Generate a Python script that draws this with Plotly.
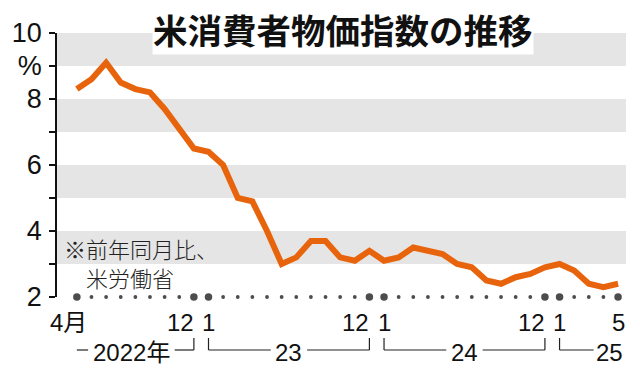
import plotly.graph_objects as go

# ---- data -------------------------------------------------------------
months = [
    "2022-04", "2022-05", "2022-06", "2022-07", "2022-08", "2022-09", "2022-10", "2022-11", "2022-12",
    "2023-01", "2023-02", "2023-03", "2023-04", "2023-05", "2023-06", "2023-07", "2023-08", "2023-09",
    "2023-10", "2023-11", "2023-12",
    "2024-01", "2024-02", "2024-03", "2024-04", "2024-05", "2024-06", "2024-07", "2024-08", "2024-09",
    "2024-10", "2024-11", "2024-12",
    "2025-01", "2025-02", "2025-03", "2025-04", "2025-05",
]
cpi = [
    8.3, 8.6, 9.1, 8.5, 8.3, 8.2, 7.7, 7.1, 6.5,
    6.4, 6.0, 5.0, 4.9, 4.0, 3.0, 3.2, 3.7, 3.7, 3.2, 3.1, 3.4,
    3.1, 3.2, 3.5, 3.4, 3.3, 3.0, 2.9, 2.5, 2.4, 2.6, 2.7, 2.9,
    3.0, 2.8, 2.4, 2.3, 2.4,
]
y_tickvals = [2, 3, 4, 5, 6, 7, 8, 9, 10]
y_ticktext = ["2", "", "4", "", "6", "", "8", "%", "10"]
x_labels = [("2022-04", "4月"), ("2022-12", "12"), ("2023-01", "1"), ("2023-12", "12"),
            ("2024-01", "1"), ("2024-12", "12"), ("2025-01", "1"), ("2025-05", "5")]
year_groups = [("2022年", "2022-04", "2022-12"), ("23", "2023-01", "2023-12"),
               ("24", "2024-01", "2024-12"), ("25", "2025-01", "2025-05")]
title = "米消費者物価指数の推移"
note_lines = ["※前年同月比、", "\u3000米労働省"]

# ---- geometry helpers -------------------------------------------------
W, H = 640, 377
L, R, T, B = 53, 626, 33, 297
X0PX, X1PX = 73, 618
idx = {m: i for i, m in enumerate(months)}
n = len(months)
step = (X1PX - X0PX) / (n - 1)
xr = [-(X0PX - L) / step, (n - 1) + (R - X1PX) / step]


def pxx(p):  # pixel x -> paper
    return (p - L) / (R - L)


def pyy(p):  # pixel y -> paper
    return (B - p) / (B - T)


def idx_px(i):
    return X0PX + i * step


def px_idx(p):
    return (p - X0PX) / step


NUMFONT = "Liberation Sans, Arial, Noto Sans CJK JP, sans-serif"
CJK = "Noto Sans CJK JP, sans-serif"
ORANGE = "#E8640C"
BAND = "#E5E5E5"

fig = go.Figure()

# orange line
fig.add_trace(go.Scatter(
    x=list(range(n)), y=cpi, mode="lines",
    line=dict(color=ORANGE, width=6, shape="linear"),
    hoverinfo="skip", cliponaxis=False,
))

# dots along the baseline
big = [(i == 0 or i == n - 1 or m.endswith("-12") or m.endswith("-01")) for i, m in enumerate(months)]
fig.add_trace(go.Scatter(
    x=list(range(n)), y=[y_tickvals[0]] * n, mode="markers",
    marker=dict(color="black", size=[7.5 if b else 3.8 for b in big], line=dict(width=0)),
    hoverinfo="skip", cliponaxis=False,
))

shapes = []
for lo in [3, 5, 7, 9]:
    shapes.append(dict(type="rect", xref="paper", yref="y", x0=0, x1=1, y0=lo, y1=lo + 1,
                       fillcolor=BAND, line=dict(width=0), layer="below"))

annotations = []
# title
annotations.append(dict(
    text="<b>" + title + "</b>", xref="paper", yref="paper",
    x=pxx(341), y=pyy(29), xanchor="center", yanchor="middle",
    showarrow=False, font=dict(family=CJK, size=34.5, color="#111"),
    bgcolor="white", borderpad=0,
))
# note
note_font = dict(family=CJK, size=22, color="#222", weight=300)
annotations.append(dict(text="<br>".join(note_lines), xref="paper", yref="paper",
                        x=pxx(58), y=pyy(262), xanchor="left", yanchor="middle",
                        align="left", showarrow=False, font=note_font))

# month labels
for m, t in x_labels:
    i = idx[m]
    if t == "12":
        xa, xs = "right", 2
    elif t == "4月":
        xa, xs = "center", -8
    else:
        xa, xs = "center", 0
    annotations.append(dict(text=t, xref="x", yref="paper", x=i, y=pyy(322), xanchor=xa,
                            xshift=xs, yanchor="middle", showarrow=False,
                            font=dict(family=NUMFONT, size=24, color="#111")))

# year brackets
YT, YB = 338, 350
LC = "#222"
for gi, (lab, m0, m1) in enumerate(year_groups):
    i0, i1 = idx[m0], idx[m1]
    wtxt = sum(24 if ord(c) > 255 else 13.3 for c in lab)
    first, last = gi == 0, gi == len(year_groups) - 1
    if last:
        tr = idx_px(i1) + 7
        tl = tr - wtxt
        annotations.append(dict(text=lab, xref="x", yref="paper", x=px_idx(tr), y=pyy(352),
                                xanchor="right", yanchor="middle", showarrow=False,
                                font=dict(family=NUMFONT, size=24, color="#111")))
    else:
        c = (idx_px(i0) + idx_px(i1)) / 2 - (4 if first else 0)
        tl, tr = c - wtxt / 2, c + wtxt / 2
        annotations.append(dict(text=lab, xref="x", yref="paper", x=px_idx(c), y=pyy(352),
                                xanchor="center", yanchor="middle", showarrow=False,
                                font=dict(family=NUMFONT, size=24, color="#111")))
    # left segment
    shapes.append(dict(type="line", xref="x", yref="paper", x0=i0, x1=px_idx(tl - 5),
                       y0=pyy(YB), y1=pyy(YB), line=dict(color=LC, width=1.2)))
    if not first:
        shapes.append(dict(type="line", xref="x", yref="paper", x0=i0, x1=i0,
                           y0=pyy(YT), y1=pyy(YB), line=dict(color=LC, width=1.2)))
    if not last:
        shapes.append(dict(type="line", xref="x", yref="paper", x0=px_idx(tr + 5), x1=i1,
                           y0=pyy(YB), y1=pyy(YB), line=dict(color=LC, width=1.2)))
        shapes.append(dict(type="line", xref="x", yref="paper", x0=i1, x1=i1,
                           y0=pyy(YT), y1=pyy(YB), line=dict(color=LC, width=1.2)))

fig.update_layout(
    width=W, height=H,
    margin=dict(l=L, r=W - R, t=T, b=H - B, pad=0),
    paper_bgcolor="white", plot_bgcolor="white",
    showlegend=False,
    shapes=shapes, annotations=annotations,
    xaxis=dict(range=xr, visible=False, fixedrange=True),
    yaxis=dict(range=[2, 10], tickvals=y_tickvals, ticktext=y_ticktext,
               showline=True, linecolor="#111", linewidth=1.5,
               ticks="outside", ticklen=6, tickwidth=1.5, tickcolor="#111",
               showgrid=False, zeroline=False,
               tickfont=dict(family=NUMFONT, size=27, color="#111"),
               ticklabelstandoff=2, fixedrange=True),
)

fig.write_html("out.html", config={"displayModeBar": False},
               post_script="document.body.style.margin='0px';document.body.style.padding='0px';")
